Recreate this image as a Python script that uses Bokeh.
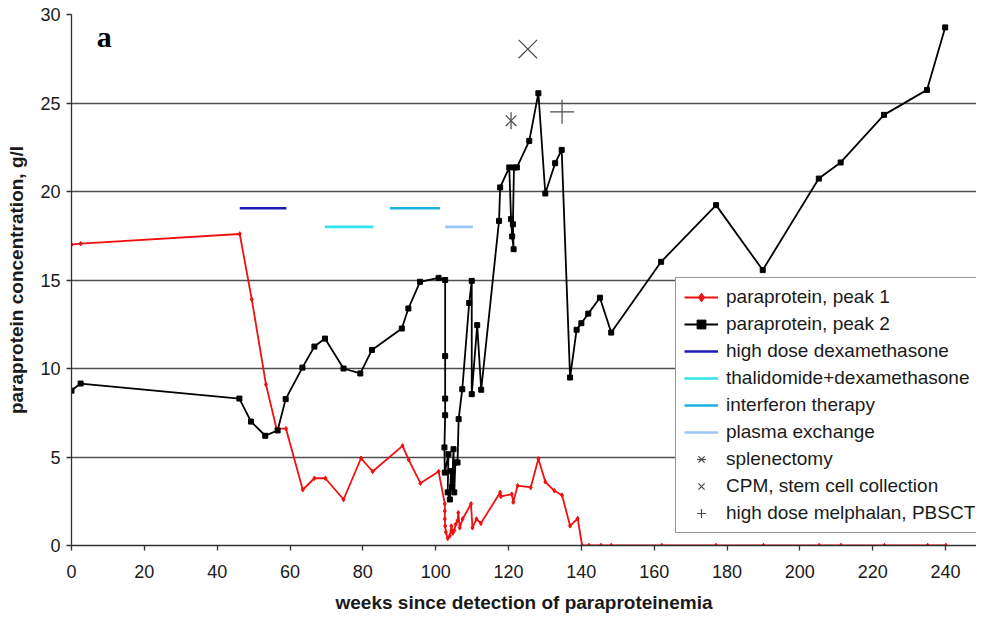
from bokeh.plotting import figure
from bokeh.models import Range1d, Legend, LegendItem, Label, FixedTicker
from bokeh.embed import file_html
from bokeh.resources import INLINE

# ---- data ----
weeks_peak1 = [0, 2.5, 46.2, 49.5, 53.4, 56.3, 58.9, 63.5, 66.7, 69.7, 74.7, 79.5, 82.7,
               90.9, 92.6, 95.8, 100.8, 102.5, 102.5, 102.5, 102.6, 102.8, 103.3,
               103.9, 104.3, 104.7, 105.1, 105.5, 106.0, 106.2, 106.6,
               107.4, 109.7, 110.1, 111.2, 112.4, 117.7, 117.9, 120.9, 121.3, 122.5,
               126.1, 128.2, 130.1, 132.6, 134.7, 136.9, 139.0, 140.2, 142.1, 145.4, 148.2,
               162.1, 177.0, 190.0, 205.3, 211.3, 223.2, 235.1, 240.1]
conc_peak1 = [17.0, 17.05, 17.6, 13.9, 9.1, 6.6, 6.6, 3.15, 3.8, 3.8, 2.6, 4.93, 4.18,
              5.63, 4.84, 3.52, 4.18, 2.35, 1.95, 1.5, 1.1, 0.75, 0.4,
              0.55, 1.1, 0.7, 0.85, 1.2, 1.4, 1.85, 1.0,
              1.5, 2.35, 1.0, 1.5, 1.25, 3.0, 2.77, 2.9, 2.45, 3.38,
              3.28, 4.9, 3.6, 3.09, 2.84, 1.11, 1.53, 0, 0, 0, 0,
              0, 0, 0, 0, 0, 0, 0, 0]

weeks_peak2 = [0, 2.5, 46.1, 49.3, 53.2, 56.6, 58.8, 63.4, 66.7, 69.6, 74.7, 79.3, 82.5,
               90.7, 92.5, 95.7, 100.8, 102.6, 102.6, 102.6, 102.6, 102.4, 102.5,
               103.5, 103.3, 103.9, 104.2, 104.5, 104.9, 105.1, 105.4, 106.0, 106.3,
               107.3, 109.2, 109.9, 109.9, 111.4, 112.5,
               117.4, 117.7, 120.2, 120.7, 121.0, 121.4, 121.2, 121.5, 122.3,
               125.7, 128.2, 130.1, 132.8, 134.6, 136.9, 138.7, 140.0, 141.9, 145.1, 148.2,
               161.9, 177.0, 189.8, 205.2, 211.2, 223.1, 234.9, 239.9]
conc_peak2 = [8.75, 9.15, 8.3, 7.0, 6.2, 6.5, 8.27, 10.05, 11.24, 11.69, 10.0, 9.72, 11.05,
              12.26, 13.39, 14.9, 15.12, 15.0, 10.7, 8.3, 7.36, 5.54, 4.12,
              5.16, 3.0, 2.6, 4.2, 3.3, 5.44, 3.0, 4.69, 4.69, 7.14,
              8.83, 13.7, 14.95, 8.55, 12.45, 8.8,
              18.34, 20.23, 21.36, 18.44, 17.46, 16.74, 18.15, 21.36, 21.36,
              22.86, 25.55, 19.89, 21.6, 22.35, 9.49, 12.19, 12.56, 13.1, 14.0, 12.03,
              16.03, 19.23, 15.56, 20.73, 21.64, 24.33, 25.74, 29.27]

therapies = ["high dose dexamethasone", "thalidomide+dexamethasone",
             "interferon therapy", "plasma exchange"]
therapy_start = [46.2, 69.6, 87.4, 102.6]
therapy_end = [59.0, 82.9, 101.2, 110.2]
therapy_level = [19.05, 18.0, 19.05, 18.0]
therapy_colors = ["#1c1cb4", "#30e4ec", "#1cb2dc", "#9cc6f2"]

events = ["splenectomy", "CPM, stem cell collection", "high dose melphalan, PBSCT"]
event_week = [120.7, 125.3, 134.7]
event_level = [24.0, 28.05, 24.5]

x_ticks = [0, 20, 40, 60, 80, 100, 120, 140, 160, 180, 200, 220, 240]
y_ticks = [0, 5, 10, 15, 20, 25, 30]

FONT = "Liberation Sans"
GREY = "#4a4a4a"

p = figure(width=976, height=618, output_backend="svg", toolbar_location=None,
           x_range=Range1d(0, 248.5), y_range=Range1d(0, 30),
           min_border_left=71, min_border_right=0, min_border_top=14, min_border_bottom=73)
p.outline_line_color = None
p.background_fill_color = "white"
p.border_fill_color = "white"

p.xgrid.visible = False
p.ygrid.grid_line_color = "#505050"
p.ygrid.grid_line_width = 1.3
p.ygrid.ticker = FixedTicker(ticks=y_ticks)

p.xaxis.ticker = FixedTicker(ticks=x_ticks)
p.yaxis.ticker = FixedTicker(ticks=y_ticks)
for ax in (p.xaxis[0], p.yaxis[0]):
    ax.axis_line_color = "#303030"
    ax.axis_line_width = 1.3
    ax.major_tick_line_color = "#303030"
    ax.major_tick_line_width = 1.3
    ax.major_tick_in = 0
    ax.major_tick_out = 5
    ax.minor_tick_line_color = None
    ax.major_label_text_font = FONT
    ax.major_label_text_font_size = "18px"
    ax.major_label_text_color = "#1a1a1a"
    ax.axis_label_text_font = FONT
    ax.axis_label_text_font_style = "bold"
    ax.axis_label_text_font_size = "19px"
    ax.axis_label_text_color = "#1a1a1a"

p.xaxis.axis_label = "weeks since detection of paraproteinemia"
p.xaxis.major_label_standoff = 14
p.xaxis.axis_label_standoff = 11
p.yaxis.axis_label = "paraprotein concentration, g/l"
p.yaxis.major_label_standoff = 6
p.yaxis.axis_label_standoff = 10

items = []

r1l = p.line(weeks_peak1, conc_peak1, line_color="#f01010", line_width=1.8)
r1m = p.scatter(weeks_peak1, conc_peak1, marker="diamond", size=4.5,
                fill_color="#f01010", line_color="#f01010")
items.append(LegendItem(label="paraprotein, peak 1", renderers=[r1l, r1m]))

r2l = p.line(weeks_peak2, conc_peak2, line_color="black", line_width=1.8)
r2m = p.scatter(weeks_peak2, conc_peak2, marker="square", size=5,
                fill_color="black", line_color="black")
items.append(LegendItem(label="paraprotein, peak 2", renderers=[r2l, r2m]))

for name, s, e, lv, c in zip(therapies, therapy_start, therapy_end, therapy_level, therapy_colors):
    r = p.segment(x0=[s], y0=[lv], x1=[e], y1=[lv], line_color=c, line_width=2.6)
    items.append(LegendItem(label=name, renderers=[r]))

# splenectomy: an "x" crossed by a vertical stroke
ra = p.scatter([event_week[0]], [event_level[0]], marker="x", size=15,
               line_color=GREY, line_width=1.2)
rb = p.scatter([event_week[0]], [event_level[0]], marker="dash", size=17, angle=1.5708,
               line_color=GREY, line_width=1.2)
items.append(LegendItem(label=events[0], renderers=[ra, rb]))
rc = p.scatter([event_week[1]], [event_level[1]], marker="x", size=26,
               line_color=GREY, line_width=1.2)
items.append(LegendItem(label=events[1], renderers=[rc]))
rd = p.scatter([event_week[2]], [event_level[2]], marker="cross", size=24,
               line_color=GREY, line_width=1.2)
items.append(LegendItem(label=events[2], renderers=[rd]))

legend = Legend(items=items, location=(604, 12))
legend.border_line_color = "#303030"
legend.border_line_width = 1.2
legend.background_fill_color = "white"
legend.background_fill_alpha = 1
legend.label_text_font = FONT
legend.label_text_font_size = "19px"
legend.label_text_color = "#1a1a1a"
legend.padding = 8
legend.margin = 0
legend.spacing = 5
legend.glyph_width = 34
legend.glyph_height = 22
legend.label_height = 22
legend.label_standoff = 8
p.add_layout(legend)

p.add_layout(Label(x=9, y=28.75, text="a", text_font="Liberation Serif",
                   text_font_style="bold", text_font_size="30px",
                   text_baseline="middle", text_align="center", text_color="black"))

open("out.html", "w").write(file_html(p, INLINE))
